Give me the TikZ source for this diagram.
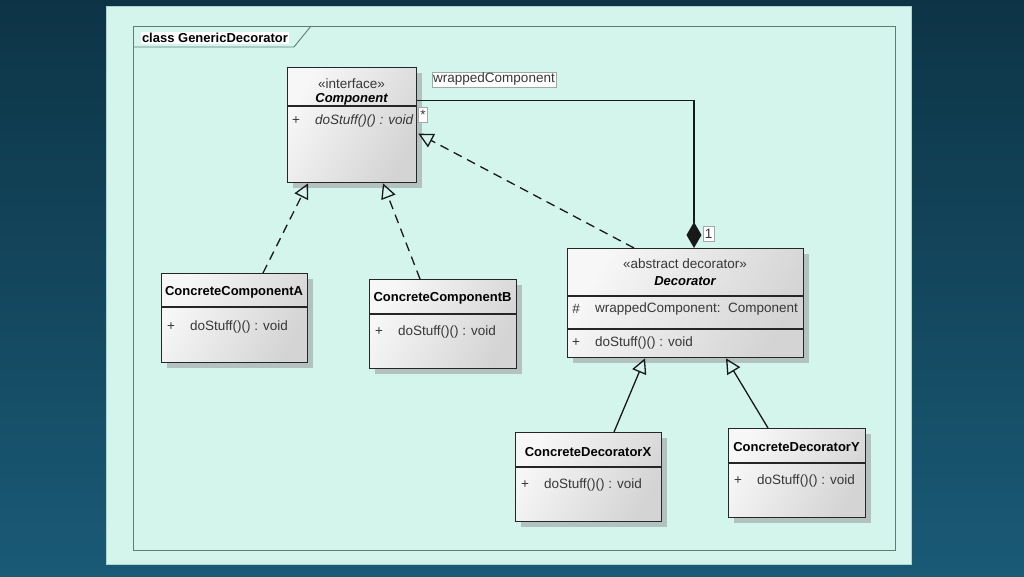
\documentclass[tikz,border=0pt]{standalone}
\usepackage{fontspec}
\setmainfont{Liberation Sans}
\usetikzlibrary{arrows.meta,shadows,calc}
\definecolor{bgtop}{RGB}{13,52,70}
\definecolor{bgbot}{RGB}{26,90,118}
\definecolor{panel}{RGB}{212,245,236}
\definecolor{panelrim}{RGB}{170,215,205}
\definecolor{framec}{RGB}{95,125,118}
\definecolor{txtc}{RGB}{55,55,55}
\newcommand\regf{\fontsize{13.5}{16}\selectfont}
\newcommand\boldf{\fontsize{13}{16}\selectfont\bfseries}
\begin{document}
\begin{tikzpicture}[x=1pt,y=-1pt,
  umlbox/.style={draw=black!85, line width=1.3pt, anchor=north west, inner sep=0pt,
    left color=black!3, right color=black!17, shading angle=60,
    drop shadow={shadow xshift=5pt,shadow yshift=-5pt,fill=black!40,opacity=0.55}},
  txt/.style={inner sep=0pt, font=\regf, text=txtc},
  nm/.style={inner sep=0pt, font=\boldf, text=black},
  sepline/.style={draw=black!85, line width=1.3pt},
  conn/.style={line width=1.3pt, draw=black!90},
  real/.style={conn, dash pattern=on 9pt off 6pt, -{Triangle[open,length=15pt,width=15pt]}},
  gen/.style={conn, -{Triangle[open,length=15pt,width=15pt]}},
  tag/.style={fill=white, draw=black!35, line width=0.5pt, inner sep=1pt, font=\regf, text=txtc}]
\useasboundingbox (0,0) rectangle (1024,576);
% background
\shade[top color=bgtop, bottom color=bgbot] (0,0) rectangle (1024,576);
\fill[panel] (106,6) rectangle (911,564);
\draw[panelrim, line width=0.8pt] (106,6) rectangle (911,564);
% frame
\draw[framec, line width=0.9pt] (133,26) rectangle (895,550);
\draw[framec, line width=0.9pt] (133,47) -- (294,47) -- (311,26);
\node[nm, fill=white, inner sep=1.5pt] (flabel) at (215,38) {class GenericDecorator};

% boxes
\node[umlbox, minimum width=129pt, minimum height=115pt] (comp) at (287,67) {};
\node[umlbox, minimum width=236pt, minimum height=109pt] (dec) at (567,248) {};
\node[umlbox, minimum width=146pt, minimum height=89pt] (ccA) at (161,273) {};
\node[umlbox, minimum width=147pt, minimum height=89pt] (ccB) at (369,279) {};
\node[umlbox, minimum width=146pt, minimum height=89pt] (cdX) at (515,432) {};
\node[umlbox, minimum width=137pt, minimum height=89pt] (cdY) at (728,428) {};

% Component
\node[txt] (compst) at (351.5,84) {«interface»};
\node[nm, font=\boldf\itshape] (compnm) at (351.5,99.5) {Component};
\draw[sepline] (comp.west |- 0,106) -- (comp.east |- 0,106);
\node[txt] (compv) at (296,121) {+};
\node[txt, anchor=west, font=\regf\itshape] (compm) at (315,121) {doStuff()() : void};

% Decorator
\node[txt] (decst) at (685,264) {«abstract decorator»};
\node[nm, font=\boldf\itshape] (decnm) at (685,281) {Decorator};
\draw[sepline] (dec.west |- 0,296) -- (dec.east |- 0,296);
\node[txt] (decav) at (576,309) {\#};
\node[txt, anchor=west] (deca) at (595,309) {wrappedComponent:\ \ Component};
\draw[sepline] (dec.west |- 0,329) -- (dec.east |- 0,329);
\node[txt] (decmv) at (576,343) {+};
\node[txt, anchor=west] (decm) at (595,343) {doStuff()() : void};

% ConcreteComponentA
\node[nm] (ccAnm) at (234,292) {ConcreteComponentA};
\draw[sepline] (ccA.west |- 0,307) -- (ccA.east |- 0,307);
\node[txt] (ccAv) at (171,327) {+};
\node[txt, anchor=west] (ccAm) at (190,327) {doStuff()() : void};

% ConcreteComponentB
\node[nm] (ccBnm) at (442.5,298) {ConcreteComponentB};
\draw[sepline] (ccB.west |- 0,314) -- (ccB.east |- 0,314);
\node[txt] (ccBv) at (379,332) {+};
\node[txt, anchor=west] (ccBm) at (398,332) {doStuff()() : void};

% ConcreteDecoratorX
\node[nm] (cdXnm) at (588,452) {ConcreteDecoratorX};
\draw[sepline] (cdX.west |- 0,467) -- (cdX.east |- 0,467);
\node[txt] (cdXv) at (525,485) {+};
\node[txt, anchor=west] (cdXm) at (544,485) {doStuff()() : void};

% ConcreteDecoratorY
\node[nm] (cdYnm) at (796.5,447) {ConcreteDecoratorY};
\draw[sepline] (cdY.west |- 0,463) -- (cdY.east |- 0,463);
\node[txt] (cdYv) at (738,481) {+};
\node[txt, anchor=west] (cdYm) at (757,481) {doStuff()() : void};

% connectors
\draw[conn, {Diamond[length=26pt,width=15pt]}-] ([xshift=127pt]dec.north west) |- ([yshift=24.5pt]comp.east);
\draw[real] ([xshift=67pt]dec.north west) -- ([yshift=-8.5pt,xshift=1pt]comp.east);
\draw[real] ([xshift=102pt]ccA.north west) -- ([xshift=21pt]comp.south west);
\draw[real] ([xshift=51pt]ccB.north west) -- ([xshift=96pt]comp.south west);
\draw[gen] ([xshift=99pt]cdX.north west) -- ([xshift=78pt]dec.south west);
\draw[gen] ([xshift=40pt]cdY.north west) -- ([xshift=159pt]dec.south west);

% tags
\node[tag] (wclbl) at (494,79.5) {wrappedComponent};
\node[tag, minimum width=9pt, minimum height=15pt, inner sep=0pt] (starlbl) at (423,114.5) {*};
\node[tag, minimum width=11pt, minimum height=15pt, inner sep=0pt] (onelbl) at (708.5,233.5) {1};
\end{tikzpicture}
\end{document}
